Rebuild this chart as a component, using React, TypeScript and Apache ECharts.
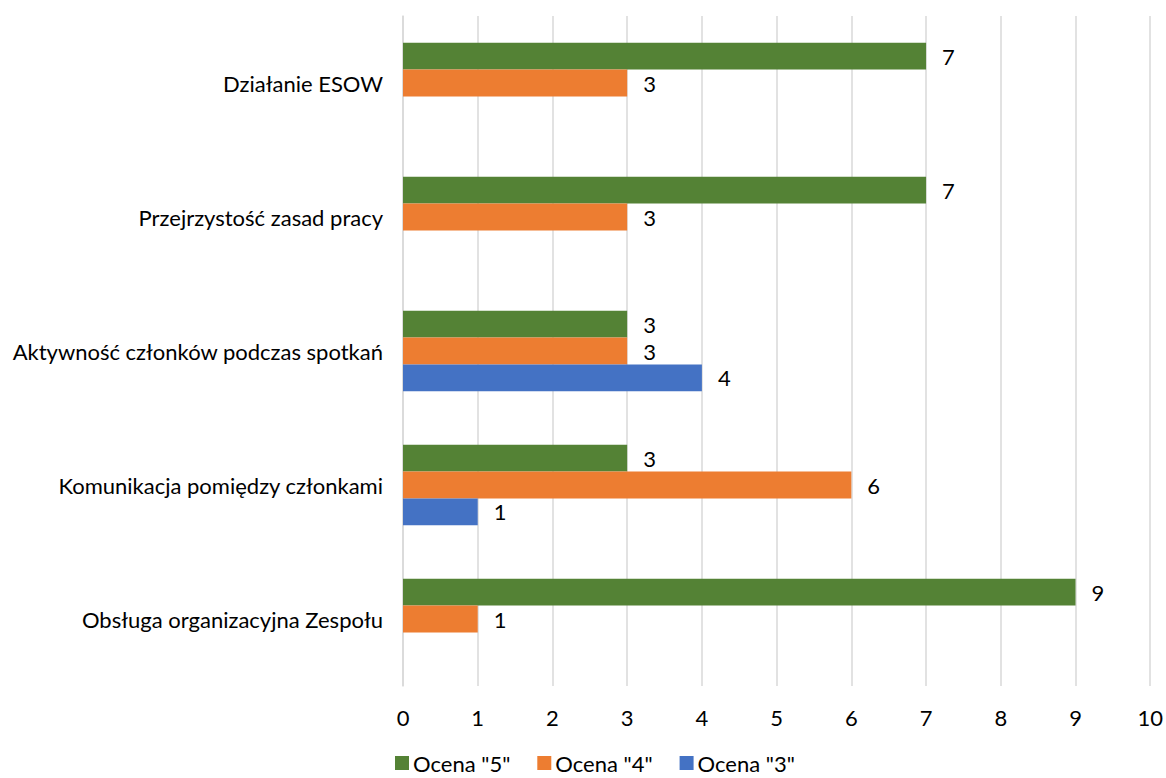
import React, { useEffect, useRef } from "react";
import * as echarts from "echarts";

const categories = [
  "Obsługa organizacyjna Zespołu",
  "Komunikacja pomiędzy członkami",
  "Aktywność członków podczas spotkań",
  "Przejrzystość zasad pracy",
  "Działanie ESOW",
];
const seriesNames = ['Ocena "5"', 'Ocena "4"', 'Ocena "3"'];
const ocena5 = [9, 3, 3, 7, 7];
const ocena4 = [1, 6, 3, 3, 3];
const ocena3: (number | null)[] = [null, 1, 4, null, null];
const xTicks = { min: 0, max: 10, interval: 1 };

const colors = ["#548235", "#ED7D31", "#4472C4"];
const FONT = "Lato";
const FS = 22;

export default function App() {
  const ref = useRef<HTMLDivElement>(null);
  useEffect(() => {
    if (!ref.current) return;
    const chart = echarts.init(ref.current, null, { renderer: "svg" });
    const values = [ocena5, ocena4, ocena3];
    chart.setOption({
      animation: false,
      textStyle: { fontFamily: FONT },
      grid: { left: 403, right: 15, top: 16, bottom: 92, containLabel: false },
      legend: {
        top: 752,
        left: 395,
        padding: 0,
        icon: "rect",
        itemWidth: 14,
        itemHeight: 14,
        itemGap: 27,
        data: seriesNames,
        textStyle: {
          fontFamily: FONT,
          fontSize: FS,
          lineHeight: 20,
          color: "#000",
          padding: [0, 0, 0, -1],
        },
      },
      xAxis: {
        type: "value",
        min: xTicks.min,
        max: xTicks.max,
        interval: xTicks.interval,
        axisLine: { show: false },
        axisTick: { show: false },
        splitLine: { show: true, lineStyle: { color: "#d9d9d9", width: 1.5 } },
        axisLabel: { margin: 20, fontSize: FS, color: "#000", fontFamily: FONT },
      },
      yAxis: {
        type: "category",
        data: categories,
        axisLine: { show: true, lineStyle: { color: "#d9d9d9", width: 1.5 } },
        axisTick: { show: false },
        axisLabel: { margin: 20, fontSize: FS, color: "#000", fontFamily: FONT },
      },
      series: seriesNames.map((name, i) => ({
        name,
        type: "bar",
        data: values[i],
        itemStyle: { color: colors[i] },
        barGap: "0%",
        barCategoryGap: "40%",
        label: {
          show: true,
          position: "right",
          distance: 16,
          fontSize: FS,
          color: "#000",
          fontFamily: FONT,
        },
      })),
    });
    return () => chart.dispose();
  }, []);
  return (
    <div
      ref={ref}
      style={{ position: "absolute", left: 0, top: 0, width: 1166, height: 778 }}
    />
  );
}
